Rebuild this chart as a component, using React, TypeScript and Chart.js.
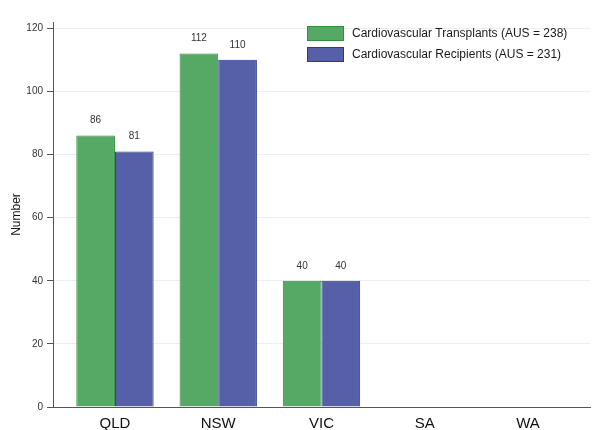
import React, { useEffect, useRef } from "react";
import { Chart, registerables } from "chart.js";

Chart.register(...registerables);

const categories = ["QLD", "NSW", "VIC", "SA", "WA"];
const transplants = [86, 112, 40, 0, 0];
const recipients = [81, 110, 40, 0, 0];
const seriesLabels = [
  "Cardiovascular Transplants (AUS = 238)",
  "Cardiovascular Recipients (AUS = 231)",
];
const yTicks = { min: 0, max: 122, step: 20 };

const FONT = "'Liberation Sans', Arial, Helvetica, sans-serif";
const GREEN = "#55a964";
const GREEN_EDGE = "#2f8f3d";
const BLUE = "#5560a8";
const BLUE_EDGE = "#283790";

// Value labels above each non-zero bar
const valueLabels = {
  id: "valueLabels",
  afterDatasetsDraw(chart: any) {
    const ctx = chart.ctx;
    ctx.save();
    ctx.font = `10px ${FONT}`;
    ctx.fillStyle = "#333";
    ctx.textAlign = "center";
    ctx.textBaseline = "middle";
    chart.data.datasets.forEach((ds: any, di: number) => {
      const meta = chart.getDatasetMeta(di);
      meta.data.forEach((el: any, i: number) => {
        const v = ds.data[i]?.y;
        if (v == null || v === 0) return;
        ctx.fillText(String(v), el.x, el.y - 15);
      });
    });
    ctx.restore();
  },
};

// Boxed legend in the upper right of the plot
const boxLegend = {
  id: "boxLegend",
  afterDraw(chart: any, _args: any, opts: any) {
    const ctx = chart.ctx;
    ctx.save();
    ctx.font = `12px ${FONT}`;
    ctx.textBaseline = "middle";
    ctx.textAlign = "left";
    chart.data.datasets.forEach((ds: any, i: number) => {
      const x = opts.x;
      const y = opts.y + i * opts.rowGap;
      ctx.fillStyle = ds.backgroundColor;
      ctx.fillRect(x, y, opts.boxW, opts.boxH);
      ctx.strokeStyle = ds.borderColor;
      ctx.lineWidth = 1;
      ctx.strokeRect(x + 0.5, y + 0.5, opts.boxW - 1, opts.boxH - 1);
      ctx.fillStyle = "#1a1a1a";
      ctx.fillText(ds.label, x + opts.boxW + 8, y + opts.boxH / 2 + 0.5);
    });
    ctx.restore();
  },
};

export default function App() {
  const ref = useRef<HTMLCanvasElement | null>(null);

  useEffect(() => {
    if (!ref.current) return;
    const toPoints = (vals: number[]) => vals.map((y, x) => ({ x, y }));
    const chart = new Chart(ref.current, {
      type: "bar",
      data: {
        datasets: [
          {
            label: seriesLabels[0],
            data: toPoints(transplants),
            backgroundColor: GREEN,
            borderColor: GREEN_EDGE,
            borderWidth: 1,
          },
          {
            label: seriesLabels[1],
            data: toPoints(recipients),
            backgroundColor: BLUE,
            borderColor: BLUE_EDGE,
            borderWidth: 1,
          },
        ],
      } as any,
      options: {
        animation: false,
        responsive: true,
        maintainAspectRatio: false,
        layout: { padding: { left: 0, right: 2, top: 22, bottom: 0 } },
        datasets: { bar: { categoryPercentage: 0.749, barPercentage: 1 } },
        plugins: {
          legend: { display: false },
          tooltip: { enabled: false },
          boxLegend: { x: 307, y: 26, rowGap: 21, boxW: 37, boxH: 15 },
        } as any,
        scales: {
          x: {
            type: "linear",
            offset: false,
            min: -0.6,
            max: categories.length - 0.4,
            afterFit: (s: any) => {
              s.height = 23;
            },
            grid: { display: true, drawOnChartArea: false, drawTicks: false },
            border: { display: true, color: "#555", width: 1 },
            ticks: {
              stepSize: 1,
              includeBounds: false,
              autoSkip: false,
              maxRotation: 0,
              padding: 8,
              color: "#111",
              font: { family: FONT, size: 15 },
              callback: (v: any) =>
                Number.isInteger(v) ? categories[v] ?? "" : "",
            },
          },
          y: {
            min: yTicks.min,
            max: yTicks.max,
            afterFit: (s: any) => {
              s.width = 53;
            },
            grid: {
              color: (c: any) => (c.tick && c.tick.value === 0 ? "rgba(0,0,0,0)" : "#eaf0f1"),
              tickColor: "#555",
              tickLength: 6,
            },
            border: { display: true, color: "#555", width: 1 },
            ticks: {
              stepSize: yTicks.step,
              includeBounds: false,
              padding: 4,
              color: "#333",
              font: { family: FONT, size: 10 },
            },
            title: {
              display: true,
              text: "Number",
              color: "#111",
              font: { family: FONT, size: 12 },
              padding: { top: 9, bottom: 0 },
            },
          },
        } as any,
      },
      plugins: [valueLabels, boxLegend],
    });
    return () => chart.destroy();
  }, []);

  return (
    <div
      style={{
        position: "fixed",
        left: 0,
        top: 0,
        width: "592px",
        height: "430px",
        background: "#fff",
      }}
    >
      <canvas ref={ref} />
    </div>
  );
}
